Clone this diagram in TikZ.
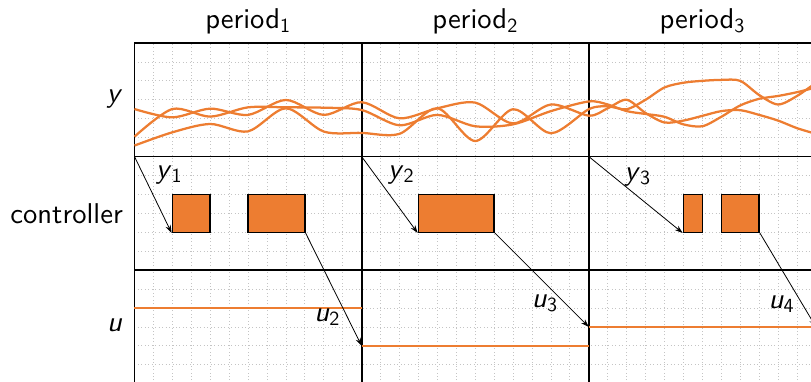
\documentclass[tikz,border=0pt]{standalone}
\usepackage{fontspec}
\setsansfont{lmsans10-regular.otf}[ItalicFont=lmsans10-oblique.otf]
\usetikzlibrary{arrows.meta}
\definecolor{accent}{HTML}{ED7D31}
\definecolor{gridgray}{HTML}{C4C4C4}

\begin{document}
\begin{tikzpicture}[x=0.5cm,y=0.5cm,
  every node/.style={font=\sffamily\fontsize{21.5}{24}\selectfont},
  frame/.style={line width=1.3pt},
  task/.style={draw=black,line width=1.1pt,fill=accent,inner sep=0pt,minimum height=1cm},
  signal/.style={draw=accent,line width=1.7pt},
  flow/.style={-{Stealth[length=6pt,width=4pt]},line width=0.6pt}]
\useasboundingbox (-7.105,2.27) rectangle (35.74,-17.91);
\begin{scope}
\clip (-7.105,2.27) rectangle (35.74,-17.91);
% grid and frame
\draw[gridgray,dotted,line width=0.6pt,step=1] (0,0) grid (36,-18);
\draw[frame] (0,-18) -- (0,0) -- (36,0);
\draw[frame] (0,-6) -- (36,-6);
\draw[frame] (0,-12) -- (36,-12);
\draw[frame] (12,0) -- (12,-18);
\draw[frame] (24,0) -- (24,-18);
% measured outputs
\draw[signal] plot[smooth] coordinates {(0,-3.49) (2,-3.93) (4,-3.47) (6,-3.8) (8,-3.01) (10,-3.8) (12,-3.13) (14,-3.98) (16,-3.45) (18,-3.15) (20,-4.25) (22,-3.25) (24,-3.84) (25,-3.45) (26,-3.0) (27,-3.7) (28,-4.2) (29,-4.1) (30,-3.85) (31,-3.6) (32,-3.55) (33,-3.8) (34,-4.1) (35,-4.5) (36,-4.8)};
\draw[signal] plot[smooth] coordinates {(0,-4.95) (2,-3.49) (4,-3.89) (6,-3.4) (8,-3.4) (10,-3.42) (12,-3.54) (14,-4.35) (16,-3.8) (18,-4.4) (20,-4.3) (22,-3.6) (24,-3.09) (25,-3.25) (26,-3.6) (27,-3.75) (28,-3.9) (29,-4.3) (30,-4.4) (31,-3.9) (32,-3.3) (33,-2.95) (34,-2.8) (35,-2.6) (36,-2.35)};
\draw[signal] plot[smooth] coordinates {(0,-5.42) (2,-4.72) (4,-4.28) (6,-4.67) (8,-3.45) (10,-4.68) (12,-4.75) (14,-4.8) (16,-3.45) (18,-5.18) (20,-3.5) (22,-4.77) (24,-3.5) (25,-3.35) (26,-3.5) (27,-3.0) (28,-2.35) (29,-2.1) (30,-2.0) (31,-1.95) (32,-2.0) (33,-2.75) (34,-3.25) (35,-2.8) (36,-2.1)};
% controller jobs
\node[task,minimum width=1cm] (c1a) at (3,-9) {};
\node[task,minimum width=1.5cm] (c1b) at (7.5,-9) {};
\node[task,minimum width=2cm] (c2) at (17,-9) {};
\node[task,minimum width=0.5cm] (c3a) at (29.5,-9) {};
\node[task,minimum width=1cm] (c3b) at (32,-9) {};
% control inputs
\coordinate (s1) at (0,-6);
\coordinate (s2) at (12,-6);
\coordinate (s3) at (24,-6);
\coordinate (u1) at (0,-14);
\coordinate (u2) at (12,-16);
\coordinate (u3) at (24,-15);
\coordinate (u4) at (36,-15);
\draw[accent,line width=1.2pt] (u1) -- (u2 |- u1);
\draw[accent,line width=1.2pt] (u2) -- (u3 |- u2);
\draw[accent,line width=1.2pt] (u3) -- (u4);
\draw[flow] (s1) -- (c1a.south west);
\draw[flow] (s2) -- (c2.south west);
\draw[flow] (s3) -- (c3a.south west);
\draw[flow] (c1b.south east) -- (u2);
\draw[flow] (c2.south east) -- (u3);
\draw[flow] (c3b.south east) -- (u4);
% labels
\node[anchor=base west] (ly1) at (0.9,-7.15) {\textit{y}\textsubscript{1}};
\node[anchor=base west] (ly2) at (13.15,-7.15) {\textit{y}\textsubscript{2}};
\node[anchor=base west] (ly3) at (25.65,-7.24) {\textit{y}\textsubscript{3}};
\node[anchor=base west] (lu2) at (9.25,-14.72) {\textit{u}\textsubscript{2}};
\node[anchor=base west] (lu3) at (20.75,-13.96) {\textit{u}\textsubscript{3}};
\node[anchor=base west] (lu4) at (33.25,-14.01) {\textit{u}\textsubscript{4}};
\node[anchor=base] (p1) at (6,0.78) {period\textsubscript{1}};
\node[anchor=base] (p2) at (18,0.78) {period\textsubscript{2}};
\node[anchor=base] (p3) at (30,0.78) {period\textsubscript{3}};
\node[anchor=base east] (ry) at (-0.4,-3.17) {\textit{y}};
\node[anchor=base east] (rc) at (-0.37,-9.53) {controller};
\node[anchor=base east] (ru) at (-0.4,-15.25) {\textit{u}};
\end{scope}
\end{tikzpicture}
\end{document}
